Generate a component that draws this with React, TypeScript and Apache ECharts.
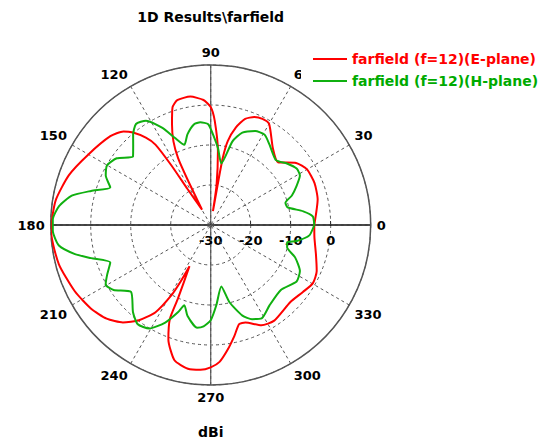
import React, { useEffect, useRef } from 'react';
import * as echarts from 'echarts';

const titleText = '1D Results\\farfield';
const unitText = 'dBi';
const seriesNames = ['farfield (f=12)(E-plane)', 'farfield (f=12)(H-plane)'];
const seriesColors = ['#ff0000', '#10b010'];
const legendTextColors = ['#ff0000', '#00aa00'];

// E-plane (red): angle in degrees, value in dBi
const eAngles = [0, 13.5, 22, 30, 36, 43, 51, 60, 64, 68, 72, 75.5, 78.5, 79.8, 80.2, 80.7, 81.6, 84.4, 87.8, 90,
  93.3, 99, 105, 108, 111, 114, 116, 117, 118, 119.5, 122.8, 123.4, 124.5, 126.6, 130, 133, 138.5, 150, 160.7, 170.6,
  178, 183, 194.5, 206, 215, 222, 228, 233, 237.7, 240.8, 242, 242.8, 246, 246.5, 249.7, 255, 261, 266, 270, 273.7,
  277.7, 282, 286, 289.6, 296.8, 303.6, 316, 324, 330.4, 336.5, 344.5, 353.4, 360];
const eValues = [-4.1, -2.5, -2.0, -2.2, -3.6, -7.0, -5.3, -0.8, -0.5, -0.9, -2.1, -4.8, -8.6, -13, -20, -26.5, -20, -11.5, -3.9, -0.5,
  1.3, 2.5, 2.3, 0.9, -3.0, -7.1, -11.4, -17.1, -22.8, -25.6, -19.3, -12.1, -5.6, -2.8, 0.2, 2.0, 3.5, 5.3, 7.6, 9.2,
  9.7, 9.9, 9.2, 7.8, 6.5, 5.0, 2.8, -0.2, -4.2, -9.9, -14, -18.4, -9.9, -4.4, 0.5, 5.0, 6.4, 6.3, 5.6, 4.3,
  1.5, -1.6, -4.2, -4.1, -1.9, -1.3, -2.3, -1.5, -0.6, -1.1, -2.7, -3.9, -4.1];

// H-plane (green)
const hAngles = [0, 4.8, 8.4, 13, 16.6, 20, 24.5, 29, 33.3, 38.9, 44.8, 53.8, 59.2, 64.7, 71.1, 75.4, 80.2, 84.6, 88.5, 91.4,
  95.8, 99.5, 104.4, 108.2, 112.4, 116.6, 121.8, 126.5, 130.6, 134, 138.6, 144.6, 150, 154.8, 159.5, 164.1, 168.1, 172.9, 178, 182,
  187.7, 192.1, 195.5, 200.5, 205.6, 209.6, 213.8, 220, 228.3, 233.7, 239.3, 245, 249.4, 251.8, 255.6, 262.4, 266, 270, 274, 279.8,
  283.6, 289.3, 293.7, 298.6, 306.2, 317.2, 326.7, 332.7, 339, 343.7, 347.3, 349.5, 354, 360];
const hValues = [-4.1, -4.4, -6.6, -10.3, -10.5, -8.4, -6.4, -4.5, -4.3, -5.5, -7.0, -5.1, -3.7, -4.0, -5.6, -8.4, -14.4, -10.7, -7.4, -4.8,
  -4.2, -4.5, -6.6, -8.9, -6.4, -2.8, 0.7, 1.4, -0.2, -2.1, -4.1, -1.2, -0.1, -1.0, -3.2, 1.1, 5.5, 8.2, 9.5, 9.5,
  8.3, 4.7, 1.0, -3.2, -1.3, 0.2, -0.8, -4.0, -0.8, 0.8, 0.1, -3.1, -6.7, -8.9, -6.6, -4.1, -4.6, -6.2, -9.9, -14.4,
  -10.2, -6.0, -4.3, -3.4, -5.1, -6.1, -4.3, -4.9, -7.4, -10.1, -10.4, -8.1, -5.2, -4.1];

const radiusMin = -30;
const radiusMax = 10;
const radiusStep = 10;
const angleStep = 30;

const FONT = 'DejaVu Sans';

export default function App() {
  const ref = useRef<HTMLDivElement>(null);
  useEffect(() => {
    const chart = echarts.init(ref.current as HTMLDivElement, null, { renderer: 'svg' });
    const center = [210.7, 225];
    const radius = 160;
    const boldText = { fontFamily: FONT, fontWeight: 'bold', fontSize: 14, color: '#000' };
    const option: any = {
      animation: false,
      backgroundColor: '#fff',
      title: [
        { text: titleText, left: 210.7, top: 10, textAlign: 'center', padding: 0, textStyle: boldText },
        { text: unitText, left: 210.7, top: 425, textAlign: 'center', padding: 0, textStyle: boldText },
      ],
      legend: {
        orient: 'vertical',
        left: 301,
        top: 50,
        padding: [1, 2, 1, 12],
        itemWidth: 34,
        itemHeight: 2,
        itemGap: 6,
        icon: 'rect',
        backgroundColor: '#fff',
        selectedMode: false,
        z: 20,
        textStyle: { fontFamily: FONT, fontSize: 14, fontWeight: 'bold', lineHeight: 16 },
        data: seriesNames.map((n, i) => ({ name: n, textStyle: { color: legendTextColors[i] } })),
      },
      polar: [
        { center, radius },
        { center, radius },
      ],
      angleAxis: [
        {
          polarIndex: 0,
          type: 'value',
          min: 0,
          max: 360,
          interval: angleStep,
          startAngle: 0,
          clockwise: false,
          z: 1,
          axisLine: { show: true, lineStyle: { color: '#555', width: 1.5 } },
          axisTick: { show: false },
          axisLabel: {
            margin: 6,
            fontFamily: FONT,
            fontWeight: 'bold',
            fontSize: 13,
            color: '#000',
            formatter: (v: number) => (v >= 360 ? '' : String(v)),
          },
          splitLine: { show: true, lineStyle: { color: '#555', type: [3, 3], width: 1 } },
        },
        {
          polarIndex: 1,
          type: 'value',
          min: 0,
          max: 360,
          interval: 90,
          startAngle: 0,
          clockwise: false,
          axisLine: { show: false },
          axisTick: { show: false },
          axisLabel: { show: false },
          splitLine: { show: true, lineStyle: { color: ['#000', '#666', '#000', '#666', '#000'], width: 1.3 } },
        },
      ],
      radiusAxis: [
        {
          polarIndex: 0,
          type: 'value',
          min: radiusMin,
          max: radiusMax,
          interval: radiusStep,
          axisLine: { show: false },
          axisTick: { show: true, length: 4, lineStyle: { color: '#333' } },
          axisLabel: {
            show: true,
            showMinLabel: true,
            showMaxLabel: false,
            margin: -9,
            verticalAlign: 'top',
            fontFamily: FONT,
            fontWeight: 'bold',
            fontSize: 13,
            color: '#000',
          },
          splitLine: { show: true, lineStyle: { color: '#555', type: [3, 3], width: 1 } },
        },
        {
          polarIndex: 1,
          type: 'value',
          min: radiusMin,
          max: radiusMax,
          interval: radiusStep,
          axisLine: { show: false },
          axisTick: { show: false },
          axisLabel: { show: false },
          splitLine: { show: false },
        },
      ],
      series: [
        {
          type: 'line',
          name: seriesNames[0],
          coordinateSystem: 'polar',
          polarIndex: 0,
          data: eAngles.map((a, i) => [eValues[i], a]),
          showSymbol: false,
          symbol: 'none',
          smooth: 0.2,
          silent: true,
          lineStyle: { color: seriesColors[0], width: 2 },
          itemStyle: { color: seriesColors[0] },
        },
        {
          type: 'line',
          name: seriesNames[1],
          coordinateSystem: 'polar',
          polarIndex: 0,
          data: hAngles.map((a, i) => [hValues[i], a]),
          showSymbol: false,
          symbol: 'none',
          smooth: 0.2,
          silent: true,
          lineStyle: { color: seriesColors[1], width: 2 },
          itemStyle: { color: seriesColors[1] },
        },
      ],
    };
    chart.setOption(option);
    return () => chart.dispose();
  }, []);
  return <div ref={ref} style={{ position: 'absolute', left: 0, top: 0, width: 539, height: 441 }} />;
}
